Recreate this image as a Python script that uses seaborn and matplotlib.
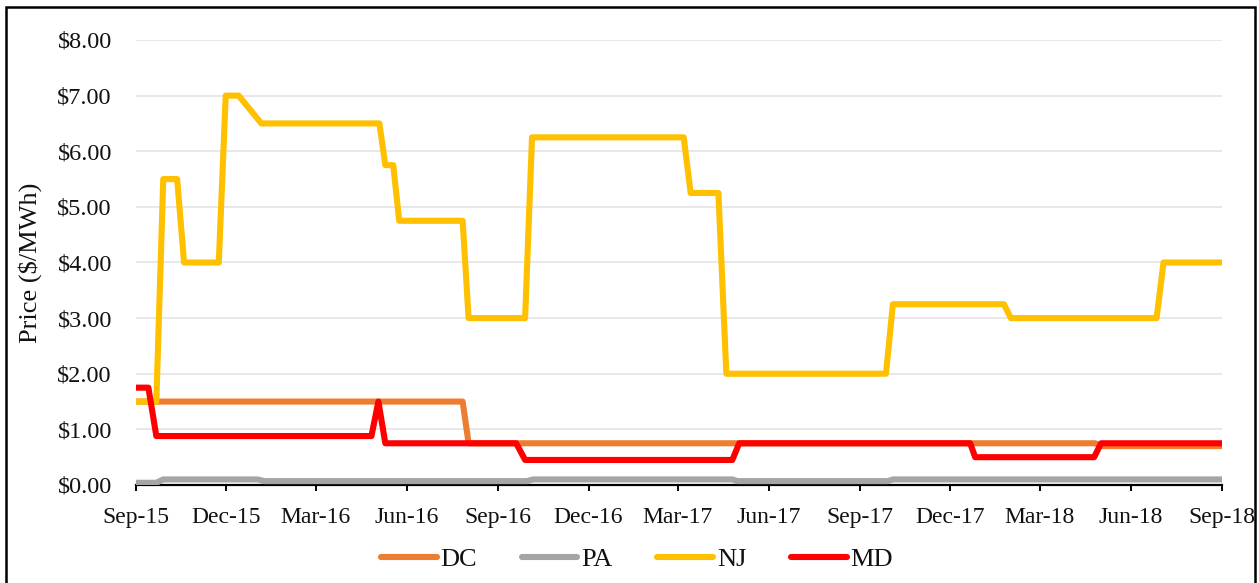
import matplotlib
matplotlib.use("Agg")
import matplotlib.pyplot as plt
import matplotlib.dates as mdates
from matplotlib.lines import Line2D
from matplotlib.patches import Rectangle
from matplotlib.ticker import FuncFormatter
import pandas as pd
import seaborn as sns

# ---- data (breakpoints) ----
nj_dates = ["2015-09-01", "2015-09-22", "2015-09-29", "2015-10-13", "2015-10-20",
            "2015-11-24", "2015-12-01", "2015-12-14", "2016-01-06", "2016-05-04",
            "2016-05-10", "2016-05-18", "2016-05-24", "2016-07-27", "2016-08-02",
            "2016-09-28", "2016-10-05", "2017-03-07", "2017-03-14", "2017-04-11",
            "2017-04-19", "2017-09-27", "2017-10-04", "2018-01-24", "2018-01-31",
            "2018-06-27", "2018-07-04", "2018-09-01"]
nj_values = [1.5, 1.5, 5.5, 5.5, 4.0,
             4.0, 7.0, 7.0, 6.5, 6.5,
             5.75, 5.75, 4.75, 4.75, 3.0,
             3.0, 6.25, 6.25, 5.25, 5.25,
             2.0, 2.0, 3.25, 3.25, 3.0,
             3.0, 4.0, 4.0]

dc_dates = ["2015-09-01", "2016-07-27", "2016-08-02", "2018-04-26", "2018-05-03", "2018-09-01"]
dc_values = [1.5, 1.5, 0.75, 0.75, 0.70, 0.70]

md_dates = ["2015-09-01", "2015-09-14", "2015-09-22", "2016-04-26", "2016-05-03",
            "2016-05-10", "2016-09-19", "2016-09-28", "2017-04-25", "2017-05-02",
            "2017-12-21", "2017-12-26", "2018-04-25", "2018-05-02", "2018-09-01"]
md_values = [1.75, 1.75, 0.88, 0.88, 1.5,
             0.75, 0.75, 0.45, 0.45, 0.75,
             0.75, 0.5, 0.5, 0.75, 0.75]

pa_dates = ["2015-09-01", "2015-09-22", "2015-09-29", "2016-01-02", "2016-01-09",
            "2016-09-30", "2016-10-06", "2017-04-25", "2017-04-30", "2017-09-29",
            "2017-10-04", "2018-09-01"]
pa_values = [0.04, 0.04, 0.10, 0.10, 0.07,
             0.07, 0.10, 0.10, 0.07, 0.07,
             0.10, 0.10]

series_names = ["DC", "PA", "NJ", "MD"]
series_colors = ["#ED7D31", "#A5A5A5", "#FFC000", "#FF0000"]

frames = []
for name, d, v in [("DC", dc_dates, dc_values), ("PA", pa_dates, pa_values),
                   ("NJ", nj_dates, nj_values), ("MD", md_dates, md_values)]:
    frames.append(pd.DataFrame({"date": pd.to_datetime(d), "price": v, "state": name}))
df = pd.concat(frames, ignore_index=True)

# ---- figure ----
sns.set_theme(style="white")
plt.rcParams["font.family"] = ["Liberation Serif", "DejaVu Serif"]

fig = plt.figure(figsize=(12.59, 5.83), dpi=100)
ax = fig.add_axes([0.10763, 0.16810, 0.86299, 0.76329])

palette = dict(zip(series_names, series_colors))
sns.lineplot(data=df, x="date", y="price", hue="state", hue_order=series_names,
             palette=palette, estimator=None, sort=False, linewidth=4.4,
             ax=ax, legend=False)
for ln in ax.get_lines():
    ln.set_solid_joinstyle("round")
    ln.set_solid_capstyle("projecting")

ax.set_xlim(pd.Timestamp("2015-09-01"), pd.Timestamp("2018-09-01"))
ax.set_ylim(0, 8)
ax.set_yticks(range(0, 9))
ax.yaxis.set_major_formatter(FuncFormatter(lambda v, p: f"${v:.2f}"))
ax.xaxis.set_major_locator(mdates.MonthLocator(bymonth=[3, 6, 9, 12]))
ax.xaxis.set_major_formatter(mdates.DateFormatter("%b-%y"))

ax.grid(axis="y", color="#E6E6E6", linewidth=1.3)
ax.grid(axis="x", visible=False)
ax.set_axisbelow(True)
for s in ["top", "right", "left"]:
    ax.spines[s].set_visible(False)
ax.spines["bottom"].set_color("black")
ax.spines["bottom"].set_linewidth(1.6)
ax.spines["bottom"].set_zorder(1)

ax.tick_params(axis="x", which="major", direction="out", length=4.5, width=1.4,
               color="black", labelsize=17, pad=11, bottom=True)
ax.tick_params(axis="y", length=0, labelsize=17.5, pad=17)
for lab in ax.get_xticklabels() + ax.get_yticklabels():
    lab.set_color("#111111")

ax.set_xlabel("")
ax.set_ylabel("Price ($/MWh)", fontsize=19, color="#111111")
ax.yaxis.set_label_coords(-0.086, 0.5)

handles = [Line2D([0], [0], color=c, linewidth=4.4, solid_capstyle="round")
           for c in series_colors]
fig.legend(handles, series_names, loc="center", bbox_to_anchor=(0.506, 0.040),
           ncol=4, frameon=False, fontsize=19, handlelength=2.1,
           handletextpad=0.15, columnspacing=1.7, labelcolor="#111111")

fig.patches.append(Rectangle((0.0048, -0.02), 0.992, 1.008, transform=fig.transFigure,
                             fill=False, edgecolor="black", linewidth=1.8))

fig.savefig("out.png", dpi=100)
